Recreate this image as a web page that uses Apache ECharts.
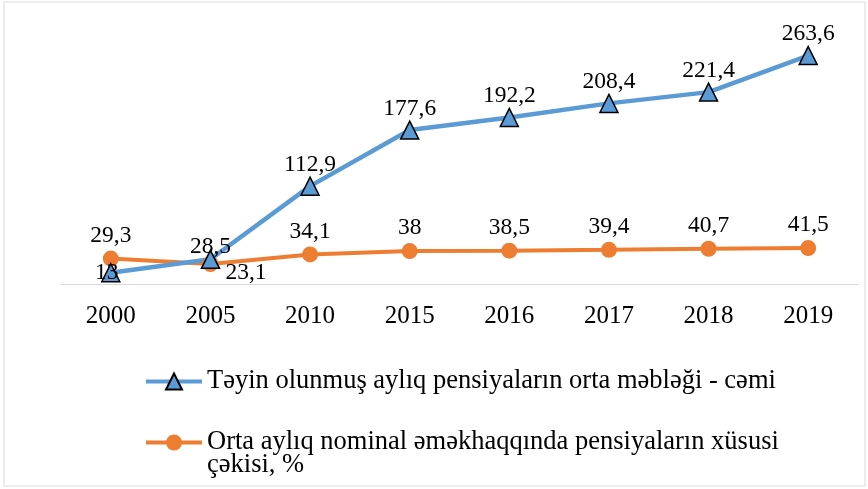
<!DOCTYPE html>
<html style="height: 100%">
<head>
    <meta charset="utf-8">
    <title>Pensiyalar</title>
</head>
<body style="height: 100%; margin: 0; background: #fff">
<div id="container" style="width: 868px; height: 489px"></div>
<script type="text/javascript" src="https://cdn.jsdelivr.net/npm/echarts@6/dist/echarts.min.js"></script>
<script type="text/javascript">
    // 数据
    var years = ['2000', '2005', '2010', '2015', '2016', '2017', '2018', '2019'];
    var pensionAmount = [13, 28.5, 112.9, 177.6, 192.2, 208.4, 221.4, 263.6];
    var pensionShare = [29.3, 23.1, 34.1, 38, 38.5, 39.4, 40.7, 41.5];
    var nameAmount = 'Təyin olunmuş aylıq pensiyaların orta məbləği - cəmi';
    var nameShare = 'Orta aylıq nominal əməkhaqqında pensiyaların xüsusi çəkisi, %';

    var serif = 'Liberation Serif, Times New Roman, serif';
    var fmt = function (p) { return String(p.value).replace('.', ','); };

    // 图例，每项单独一个
    function makeLegend(name, top, formatter) {
        return {
            orient: 'vertical',
            left: 139,
            top: top,
            itemWidth: 56,
            itemHeight: 20,
            lineStyle: { width: 4 },
            textStyle: { fontFamily: serif, fontSize: 26.5, color: '#000', lineHeight: 23 },
            formatter: formatter,
            data: [name]
        };
    }

    var myChart = echarts.init(document.getElementById('container'));
    var option = {
        animation: false,
        textStyle: { fontFamily: serif },
        grid: { left: 61, right: 10, top: 24, bottom: 205 },
        graphic: [{
            type: 'rect',
            shape: { x: 4, y: 2, width: 861, height: 484 },
            style: { fill: 'none', stroke: '#d9d9d9', lineWidth: 1 },
            silent: true
        }],
        legend: [
            makeLegend(nameAmount, 363),
            // 空的首行让图标对齐第一行文字
            makeLegend(nameShare, 401, function () {
                return '\nOrta aylıq nominal əməkhaqqında pensiyaların xüsusi\nçəkisi, %';
            })
        ],
        xAxis: {
            type: 'category',
            data: years,
            axisLine: { lineStyle: { color: '#d9d9d9', width: 1 } },
            axisTick: { show: false },
            axisLabel: { color: '#000', fontSize: 25, fontFamily: serif, margin: 20 }
        },
        yAxis: {
            type: 'value',
            min: 0,
            max: 300,
            show: false,
            splitLine: { show: false }
        },
        series: [
            {
                name: nameShare,
                type: 'line',
                symbol: 'circle',
                symbolSize: 16,
                lineStyle: { color: '#ed7d31', width: 4 },
                itemStyle: { color: '#ed7d31' },
                label: {
                    show: true,
                    position: 'top',
                    distance: 3,
                    color: '#000',
                    fontSize: 23.5,
                    fontFamily: serif,
                    formatter: fmt
                },
                data: pensionShare.map(function (v, i) {
                    if (i === 1) {
                        return { value: v, label: { position: 'right', offset: [4, 9] } };
                    }
                    return v;
                })
            },
            {
                name: nameAmount,
                type: 'line',
                symbol: 'triangle',
                symbolSize: 18,
                z: 3,
                lineStyle: { color: '#5b9bd5', width: 4.5 },
                itemStyle: { color: '#5b9bd5', borderColor: '#000', borderWidth: 1.5 },
                label: {
                    show: true,
                    position: 'top',
                    distance: 0,
                    color: '#000',
                    fontSize: 23.5,
                    fontFamily: serif,
                    formatter: fmt
                },
                data: pensionAmount.map(function (v, i) {
                    if (i === 0) {
                        return { value: v, label: { position: 'inside', offset: [-4, 0] } };
                    }
                    if (i === 1) {
                        return { value: v, label: { distance: -9 } };
                    }
                    return v;
                })
            }
        ]
    };
    myChart.setOption(option, true);
</script>
</body>
</html>
